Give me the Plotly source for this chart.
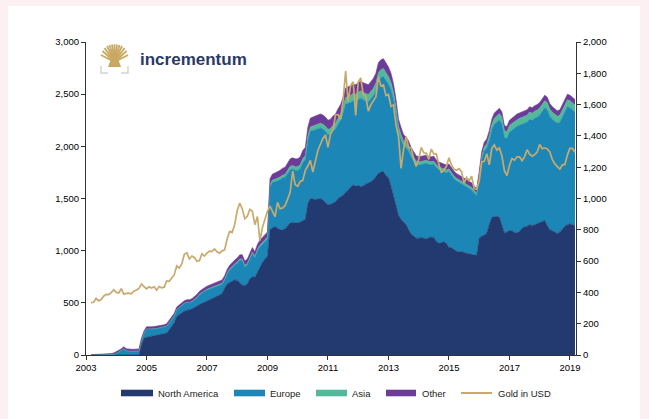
import plotly.graph_objects as go

# ---------------- data (monthly, Mar 2003 - Mar 2019) ----------------
start_year, start_month = 2003, 3

north_america = (
    [0]*10 +
    [0,0,0,0,0,0,0,0,0,0,100,160] +
    [170,175,180,185,190,195,200,205,210,240,270,310] +
    [370,390,405,420,430,432,440,455,470,485,495,505] +
    [520,530,540,555,565,575,590,640,680,695,710,720] +
    [715,690,672,665,680,730,750,745,800,840,890,920] +
    [950,1200,1220,1230,1215,1200,1200,1210,1240,1265,1270,1265] +
    [1265,1275,1290,1300,1450,1500,1495,1490,1495,1500,1485,1460] +
    [1440,1445,1455,1470,1500,1515,1530,1560,1580,1610,1630,1620] +
    [1625,1615,1620,1640,1650,1660,1680,1710,1740,1755,1760,1720] +
    [1700,1620,1530,1420,1340,1300,1270,1250,1200,1160,1140,1120] +
    [1120,1125,1120,1115,1125,1130,1125,1090,1070,1080,1085,1070] +
    [1030,1030,1010,995,990,990,985,975,970,965,958,955] +
    [1120,1140,1150,1170,1250,1320,1325,1330,1320,1250,1170,1180] +
    [1195,1190,1175,1170,1185,1215,1230,1235,1250,1240,1250,1260] +
    [1265,1280,1290,1240,1200,1190,1175,1165,1180,1210,1235,1250] +
    [1255,1250,1240]
)

europe = (
    [0,0,0,0,0,0,0,0,2,6] +
    [14,28,42,60,40,35,35,35,35,38,40,50] +
    [80,73,70,66,64,63,63,63,67,67,66,66] +
    [66,66,70,75,74,72,68,73,77,91,100,105] +
    [103,103,102,96,95,95,88,78,96,120,133,142] +
    [165,219,235,181,185,193,222,186,199,198,176,165] +
    [163,415,435,431,453,480,497,494,500,511,513,506] +
    [504,512,555,572,608,644,657,670,673,676,680,684] +
    [672,675,692,695,712,735,788,845,833,810,808,808] +
    [823,847,827,797,776,795,804,822,891,905,910,912] +
    [896,922,920,892,793,762,730,738,754,739,724,708] +
    [700,701,718,723,704,694,705,706,706,688,668,678] +
    [728,694,680,675,665,657,647,637,632,617,594,572] +
    [570,735,808,811,804,837,887,905,933,966,916,896] +
    [940,964,998,1022,1017,995,990,995,1010,1009,1019,1019] +
    [1034,1049,1079,1109,1089,1069,1066,1056,1051,1070,1094,1129] +
    [1114,1099,1089]
)

asia = (
    [0]*10 + [0]*12 + [0]*12 +
    [0,0,0,0,0,0,5,5,5,6,6,6] +
    [7,7,7,8,8,8,9,9,10,10,11,11] +
    [12,12,13,13,13,14,14,14,15,15,16,16] +
    [17,20,22,24,25,26,27,28,30,32,33,34] +
    [35,36,37,38,40,42,43,44,45,46,47,48] +
    [50,52,54,56,58,60,62,64,66,68,70,70] +
    [70,70,70,70,70,71,72,73,74,75,75,74] +
    [72,70,66,60,55,50,46,42,38,35,32,30] +
    [30,29,28,28,28,28,27,27,27,26,26,26] +
    [26,25,25,25,25,24,24,24,24,24,24,24] +
    [26,30,36,42,48,54,58,60,62,64,64,64] +
    [65,66,66,67,67,68,68,68,68,68,68,68] +
    [68,68,68,68,68,68,67,67,67,68,68,68] +
    [68,68,68]
)

other = (
    [3,4,5,6,7,8,9,10,12,14] +
    [16,17,18,20,20,20,20,20,20,20,20,20] +
    [20,20,20,21,21,22,22,22,23,23,24,24] +
    [24,24,25,25,26,26,27,27,28,28,29,29] +
    [30,30,31,31,32,32,33,33,34,35,36,37] +
    [38,39,40,41,42,43,44,45,46,47,48,49] +
    [50,55,58,60,62,64,66,68,70,72,74,75] +
    [76,77,78,80,82,84,85,86,87,88,88,88] +
    [88,88,89,89,90,90,90,91,91,92,92,92] +
    [92,93,93,93,94,94,94,95,95,95,95,94] +
    [92,88,84,78,72,68,64,60,58,56,54,52] +
    [50,50,49,49,48,48,48,47,47,46,46,46] +
    [46,46,45,45,45,44,44,44,44,44,44,44] +
    [44,45,46,47,48,49,50,50,50,50,50,50] +
    [50,50,51,51,51,52,52,52,52,53,53,53] +
    [53,53,53,53,53,53,52,52,52,52,53,53] +
    [53,53,53]
)

gold_usd = (
    [334.9,336.8,361.4,346.0,354.8,375.6,388.0,386.3,398.4,416.3] +
    [399.8,395.9,423.7,388.5,393.3,395.8,391.4,407.3,415.7,425.6,453.4,435.6] +
    [422.2,435.5,427.5,435.7,414.5,437.1,429.0,433.3,473.3,470.8,495.7,513.0] +
    [568.8,556.0,582.0,644.0,653.0,613.5,632.5,623.5,599.3,603.8,646.7,632.0] +
    [650.5,664.2,661.8,677.0,659.1,650.5,665.5,672.0,743.0,789.5,783.5,833.8] +
    [923.3,971.5,933.5,871.0,885.8,930.3,918.0,833.0,884.5,730.8,814.5,869.8] +
    [919.5,952.0,916.5,883.3,975.5,934.5,939.0,955.5,995.8,1040.0,1175.8,1087.5] +
    [1078.5,1109.5,1115.5,1179.3,1207.5,1244.0,1169.0,1246.0,1307.0,1346.8,1383.5,1405.5] +
    [1327.0,1411.0,1439.0,1535.5,1536.5,1505.5,1628.5,1813.5,1620.0,1722.0,1746.0,1531.0] +
    [1744.0,1770.0,1662.5,1651.3,1558.0,1598.5,1622.0,1648.5,1776.0,1719.0,1726.0,1657.5] +
    [1664.8,1588.5,1598.3,1469.0,1394.5,1192.0,1314.5,1394.8,1326.5,1324.0,1253.0,1204.5] +
    [1251.0,1326.5,1291.8,1288.5,1250.5,1315.0,1285.3,1285.8,1216.5,1164.3,1182.8,1206.0] +
    [1260.3,1214.0,1187.0,1180.3,1190.6,1171.0,1098.4,1135.0,1114.0,1142.4,1061.9,1060.0] +
    [1111.8,1234.9,1237.0,1285.7,1215.5,1320.8,1342.0,1309.3,1322.5,1272.0,1178.1,1145.9] +
    [1212.8,1255.6,1244.9,1266.5,1266.2,1242.3,1267.6,1311.8,1283.1,1270.2,1280.2,1296.5] +
    [1345.2,1317.9,1323.9,1316.0,1298.3,1250.5,1220.7,1201.5,1187.3,1214.8,1217.6,1279.0] +
    [1321.0,1319.2,1295.4]
)

year_ticks = [2003, 2005, 2007, 2009, 2011, 2013, 2015, 2017, 2019]
left_ticks = [0, 500, 1000, 1500, 2000, 2500, 3000]
right_ticks = [0, 200, 400, 600, 800, 1000, 1200, 1400, 1600, 1800, 2000]

series_names = ["North America", "Europe", "Asia", "Other"]
line_name = "Gold in USD"

n = len(gold_usd)
for s in (north_america, europe, asia, other):
    assert len(s) == n, len(s)
x = [start_year + (start_month - 1 + i) / 12.0 for i in range(n)]

# ---------------- styling ----------------
C_NA = "#233a70"
C_EU = "#1c86b6"
C_AS = "#52b99a"
C_OT = "#6d3b98"
C_GOLD = "#c9aa6c"
C_LOGO = "#c9a962"
PAGE = "#fdf0f3"
FONT = "Liberation Sans, Arial, sans-serif"

W, H = 649, 419
L, R, T, B = 86, 73, 42, 64
PW, PH = W - L - R, H - T - B


def px(v):
    return (v - L) / PW


def py(v):
    return (H - B - v) / PH


fig = go.Figure()
for name, vals, col in zip(series_names, [north_america, europe, asia, other], [C_NA, C_EU, C_AS, C_OT]):
    fig.add_trace(go.Scatter(
        x=x, y=vals, name=name, stackgroup="etf", mode="lines",
        line=dict(width=0.6, color=col), fillcolor=col, hoverinfo="skip",
        showlegend=False,
    ))
fig.add_trace(go.Scatter(
    x=x, y=gold_usd, name=line_name, mode="lines", yaxis="y2",
    line=dict(width=1.7, color=C_GOLD), hoverinfo="skip", showlegend=False,
))

shapes = []
# white panel on pink page
shapes.append(dict(type="rect", xref="paper", yref="paper", x0=px(8), x1=px(640), y0=py(6), y1=py(425),
                   fillcolor="white", line=dict(width=0), layer="below"))

# logo: tree icon
cx, base = 114.5, 62
tips = [101, 102.5, 104.5, 107, 109.5, 112, 114.5, 117, 119.5, 122, 124.5, 126.5, 128]
tip_y = [55, 51, 48, 46, 45, 44.5, 44.3, 44.5, 45, 46, 48, 51, 55]
for tx, ty in zip(tips, tip_y):
    shapes.append(dict(type="line", xref="paper", yref="paper",
                       x0=px(cx), y0=py(base), x1=px(tx), y1=py(ty),
                       line=dict(color=C_LOGO, width=1.8)))
trunk = "M {},{} L {},{} L {},{} L {},{} Z".format(
    px(112), py(56), px(117), py(56), px(121), py(67), px(108), py(67))
shapes.append(dict(type="path", xref="paper", yref="paper", path=trunk,
                   fillcolor=C_LOGO, line=dict(width=0)))
for pth in [[(101, 66), (101, 73), (108, 73)], [(128, 66), (128, 73), (121, 73)]]:
    p = "M {},{} L {},{} L {},{}".format(px(pth[0][0]), py(pth[0][1]), px(pth[1][0]), py(pth[1][1]),
                                         px(pth[2][0]), py(pth[2][1]))
    shapes.append(dict(type="path", xref="paper", yref="paper", path=p,
                       line=dict(color="#d4d4d4", width=1.5)))

# manual legend
legend_items = [
    ("rect", C_NA, 121, 153, 156, series_names[0]),
    ("rect", C_EU, 234, 265, 268, series_names[1]),
    ("rect", C_AS, 316, 347, 350, series_names[2]),
    ("rect", C_OT, 386, 416, 420, series_names[3]),
    ("line", C_GOLD, 461, 492, 496, line_name),
]
annotations = []
ly = 393
for kind, col, x0, x1, tx, label in legend_items:
    if kind == "rect":
        shapes.append(dict(type="rect", xref="paper", yref="paper", x0=px(x0), x1=px(x1),
                           y0=py(ly + 3.3), y1=py(ly - 3.3), fillcolor=col, line=dict(width=0)))
    else:
        shapes.append(dict(type="line", xref="paper", yref="paper", x0=px(x0), x1=px(x1),
                           y0=py(ly), y1=py(ly), line=dict(color=col, width=2)))
    annotations.append(dict(text=label, xref="paper", yref="paper", x=px(tx), y=py(ly),
                            xanchor="left", yanchor="middle", showarrow=False,
                            font=dict(family=FONT, size=9.5, color="#222222")))

annotations.append(dict(text="incrementum", xref="paper", yref="paper", x=px(138), y=py(60),
                        xanchor="left", yanchor="middle", showarrow=False,
                        font=dict(family=FONT, size=17, color="#2a3a68", weight="bold")))

axis_font = dict(family=FONT, size=9.5, color="black")
fig.update_layout(
    width=W, height=H,
    margin=dict(l=L, r=R, t=T, b=B, pad=0),
    paper_bgcolor=PAGE,
    plot_bgcolor="rgba(0,0,0,0)",
    showlegend=False,
    hovermode=False,
    shapes=shapes,
    annotations=annotations,
    xaxis=dict(range=[2003, 2003 + 16.2], tickvals=year_ticks, ticktext=[str(v) for v in year_ticks],
               showgrid=False, zeroline=False, showline=True, linecolor="#333333", linewidth=1,
               ticks="outside", ticklen=4, tickcolor="#333333", tickfont=axis_font),
    yaxis=dict(range=[0, 3000], tickvals=left_ticks, tickformat=",", showgrid=False, zeroline=False,
               showline=True, linecolor="#333333", linewidth=1, ticks="outside", ticklen=4,
               tickcolor="#333333", tickfont=axis_font),
    yaxis2=dict(range=[0, 2000], tickvals=right_ticks, tickformat=",", overlaying="y", side="right",
                showgrid=False, zeroline=False, showline=True, linecolor="#333333", linewidth=1,
                ticks="outside", ticklen=4, tickcolor="#333333", tickfont=axis_font),
)

fig.write_html(
    "out.html",
    config={"displayModeBar": False, "staticPlot": True},
    post_script="document.body.style.margin='0';document.body.style.overflow='hidden';"
                "document.body.style.background='" + PAGE + "';",
)
